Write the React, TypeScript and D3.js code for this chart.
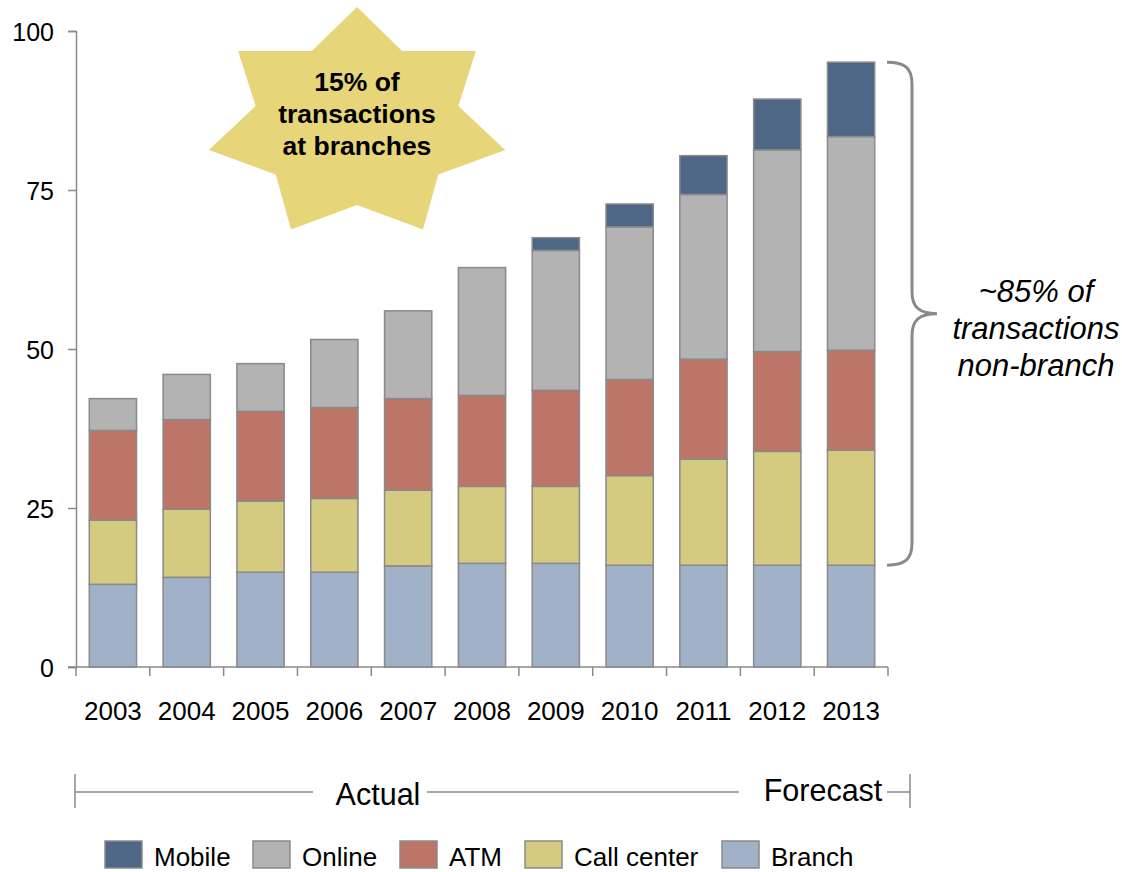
import * as d3 from 'd3';
import React, { useEffect, useRef } from 'react';

const years = ['2003', '2004', '2005', '2006', '2007', '2008', '2009', '2010', '2011', '2012', '2013'];
const branch = [13.0, 14.1, 14.9, 14.9, 15.9, 16.3, 16.3, 16.0, 16.0, 16.0, 16.0];
const callCenter = [10.1, 10.7, 11.2, 11.6, 11.9, 12.1, 12.1, 14.1, 16.7, 17.9, 18.1];
const atm = [14.1, 14.1, 14.1, 14.3, 14.4, 14.3, 15.1, 15.1, 15.7, 15.7, 15.7];
const online = [5.0, 7.1, 7.5, 10.7, 13.8, 20.1, 22.0, 24.0, 25.9, 31.7, 33.6];
const mobile = [0, 0, 0, 0, 0, 0, 2.0, 3.6, 6.1, 8.0, 11.7];
const yTicks = [0, 25, 50, 75, 100];

const seriesKeys = ['Branch', 'Call center', 'ATM', 'Online', 'Mobile'];
const legendOrder = ['Mobile', 'Online', 'ATM', 'Call center', 'Branch'];
const colors: Record<string, string> = {
  Mobile: '#4f6787',
  Online: '#b3b3b3',
  ATM: '#bc7566',
  'Call center': '#d5cb80',
  Branch: '#a0b1c8',
};

const FONT = 'Liberation Sans, Arial, sans-serif';

const App = () => {
  const svgRef = useRef<SVGSVGElement>(null);

  useEffect(() => {
    const svg = d3.select(svgRef.current);
    svg.selectAll('*').remove();

    const rows = years.map((year, i) => ({
      year,
      Branch: branch[i],
      'Call center': callCenter[i],
      ATM: atm[i],
      Online: online[i],
      Mobile: mobile[i],
    }));

    const xScale = d3.scaleBand().domain(years).range([76, 888]).paddingInner(0.36).paddingOuter(0.18);
    const yScale = d3.scaleLinear().domain([0, 100]).range([667, 31]);

    const stacked = d3.stack<any>().keys(seriesKeys)(rows);

    // star callout
    const cx = 357;
    const cy = 124;
    const starPts: [number, number][] = [];
    for (let k = 0; k < 14; k++) {
      const a = -Math.PI / 2 + (k * Math.PI) / 7;
      const outer = k % 2 === 0;
      const rx = outer ? 152 : 104;
      const ry = outer ? 117 : 81;
      starPts.push([cx + rx * Math.cos(a), cy + ry * Math.sin(a)]);
    }
    svg
      .append('path')
      .attr('d', d3.line()(starPts) + 'Z')
      .attr('fill', '#e7d579');

    const starText = ['15% of', 'transactions', 'at branches'];
    svg
      .append('g')
      .selectAll('text')
      .data(starText)
      .enter()
      .append('text')
      .attr('x', cx)
      .attr('y', (d, i) => 91 + i * 32)
      .attr('text-anchor', 'middle')
      .attr('font-family', FONT)
      .attr('font-weight', 'bold')
      .attr('font-size', 26.5)
      .attr('fill', '#000')
      .text((d) => d);

    // bars
    svg
      .append('g')
      .selectAll('g')
      .data(stacked)
      .enter()
      .append('g')
      .attr('fill', (d) => colors[d.key])
      .selectAll('rect')
      .data((d) => d.filter((s) => s[1] - s[0] > 0))
      .enter()
      .append('rect')
      .attr('x', (d) => xScale(d.data.year) as number)
      .attr('width', xScale.bandwidth())
      .attr('y', (d) => yScale(d[1]))
      .attr('height', (d) => yScale(d[0]) - yScale(d[1]))
      .attr('stroke', '#8a8a8a')
      .attr('stroke-width', 1.5);

    // y axis
    const yAxis = svg
      .append('g')
      .attr('transform', 'translate(76,0)')
      .call(d3.axisLeft(yScale).tickValues(yTicks).tickSize(8).tickPadding(14));
    yAxis.select('.domain').attr('stroke', '#8a8a8a').attr('stroke-width', 1.5);
    yAxis.selectAll('.tick line').attr('stroke', '#8a8a8a').attr('stroke-width', 1.5);
    yAxis
      .selectAll('.tick text')
      .attr('font-family', FONT)
      .attr('font-size', 25)
      .attr('fill', '#000')
      .attr('dy', '0.36em');

    // x axis
    svg
      .append('line')
      .attr('x1', 68)
      .attr('x2', 888)
      .attr('y1', 667)
      .attr('y2', 667)
      .attr('stroke', '#8a8a8a')
      .attr('stroke-width', 1.5);
    const step = xScale.step();
    svg
      .append('g')
      .selectAll('line')
      .data(d3.range(years.length + 1))
      .enter()
      .append('line')
      .attr('x1', (i) => 76 + i * step)
      .attr('x2', (i) => 76 + i * step)
      .attr('y1', 667)
      .attr('y2', 676)
      .attr('stroke', '#8a8a8a')
      .attr('stroke-width', 1.5);
    svg
      .append('g')
      .selectAll('text')
      .data(years)
      .enter()
      .append('text')
      .attr('x', (d) => (xScale(d) as number) + xScale.bandwidth() / 2)
      .attr('y', 720)
      .attr('text-anchor', 'middle')
      .attr('font-family', FONT)
      .attr('font-size', 26)
      .attr('fill', '#000')
      .text((d) => d);

    // brace
    const last = stacked[stacked.length - 1][years.length - 1];
    const top = yScale(last[1]);
    const bottom = yScale(branch[branch.length - 1]);
    const mid = (top + bottom) / 2;
    const bx = 912;
    const brace = d3.path();
    brace.moveTo(887, top);
    brace.bezierCurveTo(905, top, bx, top + 6, bx, top + 22);
    brace.lineTo(bx, mid - 22);
    brace.bezierCurveTo(bx, mid - 6, 920, mid, 937, mid);
    brace.bezierCurveTo(920, mid, bx, mid + 6, bx, mid + 22);
    brace.lineTo(bx, bottom - 22);
    brace.bezierCurveTo(bx, bottom - 6, 905, bottom, 887, bottom);
    svg
      .append('path')
      .attr('d', brace.toString())
      .attr('fill', 'none')
      .attr('stroke', '#8a8a8a')
      .attr('stroke-width', 3);

    const braceText = ['~85% of', 'transactions', 'non-branch'];
    svg
      .append('g')
      .selectAll('text')
      .data(braceText)
      .enter()
      .append('text')
      .attr('x', 1036)
      .attr('y', (d, i) => 302 + i * 37)
      .attr('text-anchor', 'middle')
      .attr('font-family', FONT)
      .attr('font-style', 'italic')
      .attr('font-size', 31)
      .attr('fill', '#000')
      .text((d) => d);

    // actual / forecast timeline
    const tl = svg.append('g').attr('stroke', '#8a8a8a').attr('stroke-width', 1.5);
    [
      [75, 313],
      [427, 739],
      [887, 910],
    ].forEach(([a, b]) => {
      tl.append('line').attr('x1', a).attr('x2', b).attr('y1', 792).attr('y2', 792);
    });
    [75, 910].forEach((x) => {
      tl.append('line').attr('x1', x).attr('x2', x).attr('y1', 774).attr('y2', 808);
    });
    svg
      .append('text')
      .attr('x', 378)
      .attr('y', 805)
      .attr('text-anchor', 'middle')
      .attr('font-family', FONT)
      .attr('font-size', 30.5)
      .attr('fill', '#000')
      .text('Actual');
    svg
      .append('text')
      .attr('x', 823)
      .attr('y', 801)
      .attr('text-anchor', 'middle')
      .attr('font-family', FONT)
      .attr('font-size', 30.5)
      .attr('fill', '#000')
      .text('Forecast');

    // legend
    const legendX = [105, 253, 400, 525, 722];
    const legend = svg
      .append('g')
      .selectAll('g')
      .data(legendOrder)
      .enter()
      .append('g')
      .attr('transform', (d, i) => `translate(${legendX[i]},841)`);
    legend
      .append('rect')
      .attr('width', 37)
      .attr('height', 27)
      .attr('fill', (d) => colors[d])
      .attr('stroke', '#8a8a8a')
      .attr('stroke-width', 1.5);
    legend
      .append('text')
      .attr('x', 49)
      .attr('y', 25)
      .attr('font-family', FONT)
      .attr('font-size', 26)
      .attr('fill', '#000')
      .text((d) => d);
  }, []);

  return (
    <svg
      ref={svgRef}
      width={1122}
      height={872}
      style={{ position: 'absolute', left: 0, top: 0, background: '#fff' }}
    ></svg>
  );
};

export default App;
